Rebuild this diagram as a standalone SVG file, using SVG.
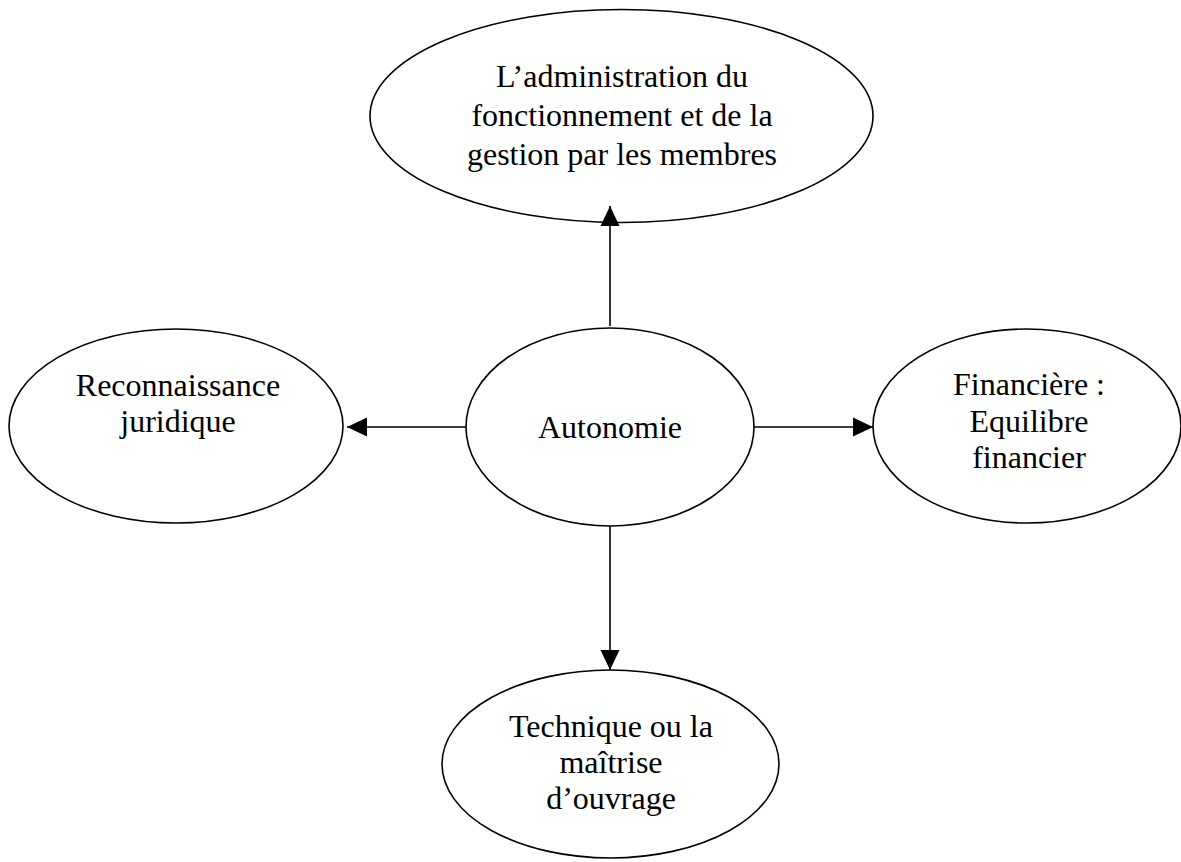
<svg xmlns="http://www.w3.org/2000/svg" width="1181" height="862" viewBox="0 0 1181 862">
<style>
.node ellipse{fill:#fff;stroke:#000;stroke-width:1.6}
.node text{font-family:"Liberation Serif","Times New Roman",serif;font-size:32px;fill:#000;text-anchor:middle}
.edge{stroke:#000;stroke-width:1.6;fill:none;marker-end:url(#arr)}
</style>
<defs>
<marker id="arr" markerUnits="userSpaceOnUse" markerWidth="20" markerHeight="20" viewBox="0 0 20 20" refX="20" refY="10" orient="auto">
<path d="M0,0.5 L20,10 L0,19.5 Z" fill="#000"/>
</marker>
</defs>
<rect width="1181" height="862" fill="#fff"/>
<g id="node-admin" class="node">
<ellipse cx="621.5" cy="116" rx="251.5" ry="106.5"/>
<text x="622" y="87">L’administration du</text>
<text x="622" y="126">fonctionnement et de la</text>
<text x="622" y="165">gestion par les membres</text>
</g>
<g id="node-autonomie" class="node">
<ellipse cx="610" cy="427" rx="144" ry="99"/>
<text x="610" y="438">Autonomie</text>
</g>
<g id="node-juridique" class="node">
<ellipse cx="176" cy="426" rx="167" ry="97"/>
<text x="178" y="396">Reconnaissance</text>
<text x="178" y="432">juridique</text>
</g>
<g id="node-financiere" class="node">
<ellipse cx="1027" cy="426" rx="154" ry="97"/>
<text x="1029" y="395">Financière :</text>
<text x="1029" y="432">Equilibre</text>
<text x="1029" y="468">financier</text>
</g>
<g id="node-technique" class="node">
<ellipse cx="610.5" cy="764" rx="168.5" ry="94"/>
<text x="611" y="737">Technique ou la</text>
<text x="611" y="773">maîtrise</text>
<text x="611" y="809">d’ouvrage</text>
</g>
<g id="connectors">
<line class="edge" x1="610" y1="326" x2="610" y2="206"/>
<line class="edge" x1="466" y1="427" x2="347" y2="427"/>
<line class="edge" x1="754" y1="427" x2="873" y2="427"/>
<line class="edge" x1="610" y1="526" x2="610" y2="670"/>
</g>
</svg>
